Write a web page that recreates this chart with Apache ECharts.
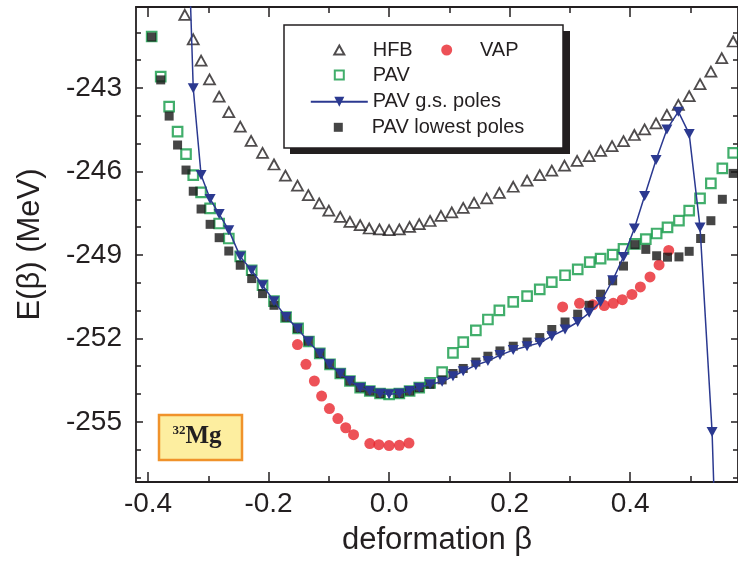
<!DOCTYPE html>
<html>
<head>
<meta charset="utf-8">
<script src="https://cdn.jsdelivr.net/npm/echarts@6/dist/echarts.min.js"></script>
<style>
html, body { margin: 0; padding: 0; background: #fff; }
#chart { width: 738px; height: 564px; }
</style>
</head>
<body>
<div id="chart"></div>
<script>
// tick positions / labels
var xMajor = [-0.4, -0.2, 0, 0.2, 0.4];
var xMinor = [-0.3, -0.1, 0.1, 0.3, 0.5];
var yMajor = [-255, -252, -249, -246, -243];
var yMinor = [-257, -256, -254, -253, -251, -250, -248, -247, -245, -244, -242, -241];

// HFB
var hfbBeta = [-0.339, -0.325, -0.312, -0.298, -0.282, -0.266, -0.247, -0.229, -0.210, -0.191,
  -0.172, -0.152, -0.134, -0.116, -0.100, -0.081, -0.065, -0.048, -0.033, -0.016,
  0.000, 0.017, 0.034, 0.050, 0.068, 0.086, 0.104, 0.123, 0.141, 0.162,
  0.183, 0.206, 0.229, 0.250, 0.270, 0.291, 0.312, 0.332, 0.351, 0.370,
  0.389, 0.407, 0.424, 0.443, 0.461, 0.480, 0.498, 0.516, 0.534, 0.552, 0.571];
var hfbE = [-240.37, -241.25, -242.02, -242.69, -243.31, -243.87, -244.39, -244.90, -245.33, -245.75,
  -246.15, -246.51, -246.85, -247.15, -247.41, -247.63, -247.81, -247.93, -248.05, -248.08,
  -248.11, -248.08, -247.99, -247.89, -247.78, -247.60, -247.47, -247.31, -247.13, -246.97,
  -246.77, -246.55, -246.33, -246.13, -245.97, -245.79, -245.62, -245.45, -245.26, -245.09,
  -244.91, -244.69, -244.49, -244.27, -243.97, -243.61, -243.29, -242.86, -242.41, -241.93, -241.33];

// PAV
var pavBeta = [-0.394, -0.379, -0.365, -0.351, -0.337, -0.325, -0.312, -0.297, -0.282, -0.266,
  -0.247, -0.228, -0.210, -0.191, -0.171, -0.151, -0.133, -0.115, -0.098, -0.081,
  -0.065, -0.048, -0.032, -0.015, 0.000, 0.017, 0.034, 0.050, 0.068, 0.088,
  0.106, 0.123, 0.144, 0.164, 0.183, 0.206, 0.229, 0.250, 0.270, 0.292,
  0.313, 0.333, 0.351, 0.371, 0.389, 0.408, 0.426, 0.444, 0.462, 0.481,
  0.498, 0.516, 0.534, 0.553, 0.571];
var pavE = [-241.15, -242.59, -243.67, -244.57, -245.38, -246.13, -246.75, -247.33, -247.87, -248.41,
  -249.05, -249.55, -250.09, -250.66, -251.23, -251.64, -252.11, -252.54, -252.93, -253.26,
  -253.53, -253.77, -253.89, -253.98, -254.01, -253.98, -253.89, -253.77, -253.60, -253.21,
  -252.52, -252.13, -251.71, -251.32, -250.99, -250.69, -250.48, -250.24, -249.98, -249.73,
  -249.52, -249.26, -249.13, -248.99, -248.78, -248.60, -248.43, -248.23, -248.01, -247.77,
  -247.41, -246.97, -246.43, -245.89, -245.33];

// PAV g.s. poles
var gsBeta = [-0.339, -0.325, -0.312, -0.297, -0.282, -0.266, -0.247, -0.228, -0.210, -0.191,
  -0.171, -0.152, -0.134, -0.115, -0.099, -0.081, -0.065, -0.048, -0.032, -0.015,
  0.000, 0.017, 0.034, 0.050, 0.068, 0.088, 0.106, 0.123, 0.144, 0.164,
  0.184, 0.206, 0.229, 0.250, 0.270, 0.292, 0.313, 0.332, 0.351, 0.371,
  0.389, 0.407, 0.424, 0.443, 0.461, 0.480, 0.498, 0.516, 0.536, 0.553];
var gsE = [-233.6, -243.01, -246.13, -246.99, -247.53, -248.11, -249.06, -249.56, -250.09, -250.66,
  -251.23, -251.64, -252.11, -252.54, -252.93, -253.26, -253.53, -253.77, -253.89, -253.98,
  -254.01, -253.98, -253.89, -253.77, -253.65, -253.56, -253.36, -253.18, -252.96, -252.81,
  -252.60, -252.42, -252.28, -252.16, -251.92, -251.68, -251.41, -251.08, -250.69, -249.91,
  -249.07, -248.05, -246.88, -245.59, -244.49, -243.85, -244.65, -248.01, -255.36, -267.0];

// PAV lowest poles
var lowBeta = [-0.394, -0.379, -0.365, -0.351, -0.337, -0.325, -0.312, -0.297, -0.282, -0.266,
  -0.247, -0.228, -0.210, -0.191, -0.171, -0.152, -0.134, -0.115, -0.099, -0.081,
  -0.065, -0.048, -0.032, -0.015, 0.017, 0.034, 0.050, 0.068, 0.088, 0.106,
  0.123, 0.144, 0.164, 0.184, 0.206, 0.229, 0.250, 0.270, 0.292, 0.313,
  0.332, 0.351, 0.371, 0.389, 0.408, 0.426, 0.444, 0.462, 0.481, 0.498,
  0.517, 0.534, 0.553, 0.571];
var lowE = [-241.17, -242.71, -244.01, -245.05, -245.95, -246.71, -247.35, -247.90, -248.38, -248.86,
  -249.37, -249.85, -250.39, -250.81, -251.24, -251.64, -252.10, -252.54, -252.93, -253.26,
  -253.53, -253.77, -253.89, -253.98, -253.98, -253.89, -253.77, -253.65, -253.49, -253.26,
  -253.08, -252.85, -252.64, -252.45, -252.28, -252.13, -251.97, -251.68, -251.41, -251.13,
  -250.81, -250.41, -249.93, -249.40, -248.63, -248.80, -249.03, -249.08, -249.07, -248.87,
  -248.41, -247.77, -247.00, -246.07];

// VAP
var vapBeta = [-0.152, -0.138, -0.124, -0.112, -0.099, -0.085, -0.072, -0.059, -0.032, -0.017, 0.000, 0.017, 0.033,
  0.288, 0.316, 0.338, 0.357, 0.372, 0.387, 0.403, 0.417, 0.433, 0.448, 0.464];
var vapE = [-252.22, -252.93, -253.53, -254.07, -254.52, -254.88, -255.21, -255.46, -255.78, -255.82, -255.85, -255.84, -255.76,
  -250.87, -250.74, -250.79, -250.82, -250.74, -250.61, -250.42, -250.15, -249.79, -249.36, -248.84];

function zip(xs, ys) {
  var out = [];
  for (var i = 0; i < xs.length; i++) out.push([xs[i], ys[i]]);
  return out;
}

var ink = '#231f20';
var font = 'Liberation Sans, Arial, Helvetica, sans-serif';
var xMin = -0.42, xMax = 0.579, yMin = -257.16, yMax = -240.09;

function axis(pos, min, max, ticks, len, showLine) {
  return {
    type: 'value', position: pos, min: min, max: max,
    axisLine: { show: showLine, onZero: false, lineStyle: { color: ink, width: 1.8 } },
    axisTick: { show: true, inside: true, length: len, customValues: ticks, lineStyle: { color: ink, width: 1.5 } },
    axisLabel: { show: false },
    splitLine: { show: false }
  };
}

var xMain = axis('bottom', xMin, xMax, xMajor, 10, true);
xMain.axisLabel = {
  show: true, customValues: xMajor, margin: 8, color: ink, fontSize: 28, fontFamily: font,
  formatter: function (v) { return v.toFixed(1); }
};
xMain.name = 'deformation \u03b2';
xMain.nameLocation = 'middle';
xMain.nameGap = 43;
xMain.nameTextStyle = { color: ink, fontSize: 31, fontFamily: font };

var yMain = axis('left', yMin, yMax, yMajor, 7, true);
yMain.axisLabel = {
  show: true, customValues: yMajor, margin: 14, color: ink, fontSize: 28, fontFamily: font,
  formatter: function (v) { return String(v); }
};
yMain.name = 'E(\u03b2) (MeV)';
yMain.nameLocation = 'middle';
yMain.nameGap = 90;
yMain.nameTextStyle = { color: ink, fontSize: 31, fontFamily: font };

var blue = '#2b3990';
// one legend per entry: icon centred at cx, text starting at textX
function leg(name, cx, cy, w, h, textX) {
  var left = cx - w / 2;
  return {
    data: [name], left: left, top: cy - 10, orient: 'vertical', padding: 0,
    itemWidth: w, itemHeight: h, selectedMode: false, symbolKeepAspect: true,
    textStyle: {
      color: ink, fontSize: 20, fontFamily: font, lineHeight: 20,
      padding: [0, 0, 0, textX - (left + w + 5)]
    }
  };
}

var chart = echarts.init(document.getElementById('chart'));
chart.setOption({
  animation: false,
  backgroundColor: '#fff',
  grid: { left: 136, right: 0, top: 7, bottom: 82, outerBoundsMode: 'none' },
  xAxis: [xMain, axis('bottom', xMin, xMax, xMinor, 6, false),
    axis('top', xMin, xMax, xMajor, 10, true), axis('top', xMin, xMax, xMinor, 6, false)],
  yAxis: [yMain, axis('left', yMin, yMax, yMinor, 5, false),
    axis('right', yMin, yMax, yMajor, 7, true), axis('right', yMin, yMax, yMinor, 5, false)],
  legend: [
    leg('HFB', 338.3, 50, 10, 9, 371.7),
    leg('VAP', 446.7, 50, 11, 11, 480),
    leg('PAV', 338.3, 75, 9, 9, 371.7),
    leg('PAV g.s. poles', 338.3, 101.7, 57, 12.5, 371.7),
    leg('PAV lowest poles', 338.3, 127.3, 9, 9, 371.7)
  ],
  graphic: [
    { type: 'rect', z: 3, shape: { x: 290, y: 31, width: 280, height: 123 }, style: { fill: ink } },
    { type: 'rect', z: 3, shape: { x: 284, y: 25, width: 279, height: 123 }, style: { fill: '#fff', stroke: ink, lineWidth: 1.5 } },
    { type: 'rect', z: 3, shape: { x: 159, y: 415, width: 83, height: 45 }, style: { fill: '#fdeea0', stroke: '#f0922b', lineWidth: 2.5 } },
    {
      type: 'text', z: 4, x: 197, y: 437,
      style: {
        text: '{s|32}{m|Mg}', align: 'center', verticalAlign: 'middle',
        rich: {
          s: { fontSize: 13, fontWeight: 'bold', fontFamily: 'Liberation Serif, serif', fill: ink, verticalAlign: 'top' },
          m: { fontSize: 25, fontWeight: 'bold', fontFamily: 'Liberation Serif, serif', fill: ink }
        }
      }
    }
  ],
  series: [
    {
      type: 'scatter', name: 'HFB', data: zip(hfbBeta, hfbE),
      symbol: 'triangle', symbolSize: [11, 10],
      itemStyle: { color: 'rgba(255,255,255,0)', borderColor: ink, borderWidth: 1.8 }
    },
    {
      type: 'scatter', name: 'VAP', data: zip(vapBeta, vapE),
      symbol: 'circle', symbolSize: 11, itemStyle: { color: '#e8262d' }
    },
    {
      type: 'scatter', name: 'PAV', data: zip(pavBeta, pavE),
      symbol: 'rect', symbolSize: 9.5,
      itemStyle: { color: 'rgba(255,255,255,0)', borderColor: '#129a46', borderWidth: 2.2 }
    },
    {
      type: 'line', name: 'PAV g.s. poles', data: zip(gsBeta, gsE),
      symbol: 'path://M0,0L10,0L5,9Z', symbolSize: [11, 10],
      lineStyle: { color: blue, width: 1.5 }, itemStyle: { color: blue }
    },
    {
      type: 'scatter', name: 'PAV lowest poles', data: zip(lowBeta, lowE),
      symbol: 'rect', symbolSize: 9, itemStyle: { color: '#161616' }
    }
  ]
});
</script>
</body>
</html>
